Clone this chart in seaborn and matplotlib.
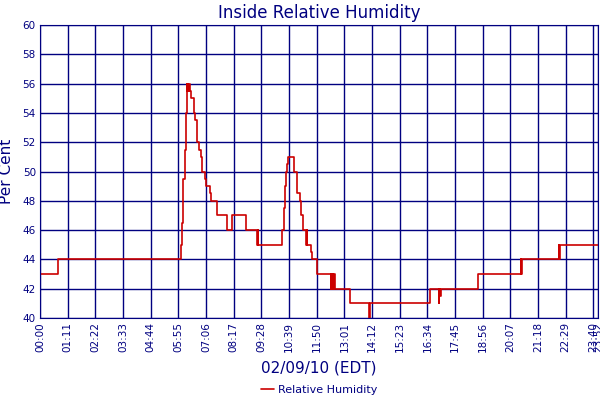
import matplotlib
matplotlib.use("Agg")
import pandas as pd
import seaborn as sns
from matplotlib import pyplot as plt

# Readings (minutes after midnight, % RH), step changes
minutes = [0, 46, 362, 365, 368, 371, 374, 376, 378, 380, 381, 383, 385, 388,
           392, 396, 399, 402, 404, 409, 412, 416, 423, 426, 436, 439, 453, 481,
           493, 528, 556, 558, 559, 560, 620, 626, 629, 631, 634, 636, 652, 660,
           667, 670, 674, 676, 683, 684, 685, 695, 697, 712, 747, 748, 750, 752,
           753, 755, 756, 796, 845, 846, 847, 848, 1001, 1024, 1025, 1027, 1028,
           1125, 1234, 1235, 1236, 1332, 1333, 1335, 1432]
humidity = [43, 44, 45, 46.5, 49.5, 51.5, 54, 56, 55.5, 56, 55.5, 56, 55.5, 55,
            55, 54, 53.5, 53, 52, 51.5, 51, 50, 49.5, 49, 48.5, 48, 47, 46,
            47, 46, 45.5, 45, 46, 45, 46, 47.5, 49, 50, 50.5, 51, 50, 48.5,
            48, 47, 46.5, 46, 45, 46, 45, 44.5, 44, 43, 42, 43, 42, 43,
            42, 43, 42, 41, 40, 41, 40.5, 41, 42, 41, 42, 41.5, 42,
            43, 44, 43, 44, 45, 44, 45, 45]

tick_minutes = list(range(0, 1421, 71)) + [1432]
tick_labels = ["00:00", "01:11", "02:22", "03:33", "04:44", "05:55", "07:06",
               "08:17", "09:28", "10:39", "11:50", "13:01", "14:12", "15:23",
               "16:34", "17:45", "18:56", "20:07", "21:18", "22:29", "23:40",
               "23:52"]

df = pd.DataFrame({"minute": minutes, "rh": humidity})

navy = "#000080"
sns.set_style("white")
plt.rcParams["font.family"] = ["DejaVu Sans"]

fig = plt.figure(figsize=(6, 4), dpi=100)
ax = fig.add_axes([0.0667, 0.205, 0.93, 0.7325])

sns.lineplot(data=df, x="minute", y="rh", ax=ax, color="#cc0000",
             drawstyle="steps-post", linewidth=1.2, label="Relative Humidity")

ax.set_xlim(0, 1432)
ax.set_ylim(40, 60)
ax.set_yticks(range(40, 61, 2))
ax.set_xticks(tick_minutes)
ax.set_xticklabels(tick_labels, rotation=90)
ax.grid(True, color=navy, linewidth=1)
ax.set_axisbelow(True)
for s in ax.spines.values():
    s.set_color(navy)
ax.tick_params(colors=navy, labelsize=7.5, length=0, pad=3)

ax.set_title("Inside Relative Humidity", color=navy, fontsize=12, pad=5)
ax.set_xlabel("02/09/10 (EDT)", color=navy, fontsize=11, labelpad=6)
ax.set_ylabel("Per Cent", color=navy, fontsize=11, labelpad=6)

leg = ax.legend(loc="center", bbox_to_anchor=(0.5, -0.247), frameon=False,
                fontsize=8, handlelength=1.2, handletextpad=0.3,
                borderpad=0, borderaxespad=0)
for t in leg.get_texts():
    t.set_color(navy)

fig.savefig("out.png", dpi=100)
